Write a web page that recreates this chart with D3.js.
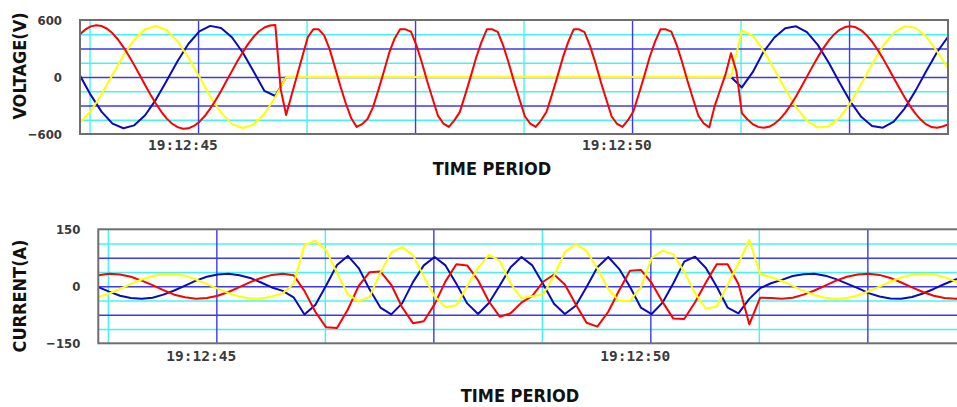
<!DOCTYPE html>
<html>
<head>
<meta charset="utf-8">
<script src="https://cdn.jsdelivr.net/npm/d3@7"></script>
<style>
  body { margin: 0; background: #fff; }
  svg { display: block; }
</style>
</head>
<body>
<div id="chart"></div>
<script>
// record window: 10 s starting at 19:12:43.82 (seconds after 19:12:00)
var t0 = 43.82, span = 10;

// phase R voltage is read at twice the rate of the other traces
var voltageRed = [
  451, 501, 533, 545, 536, 508, 460, 395, 315, 224,
  125, 20, -85, -187, -282, -366, -438, -492, -528, -544,
  -540, -515, -472, -411, -333, -244, -147, -43, 62, 166,
  261, 349, 423, 482, 521, 542, 548, -130, -400, -190,
  14, 218, 421, 502, 502, 438, 296, 101, -97, -279,
  -435, -525, -496, -442, -319, -138, 56, 256, 406, 502,
  502, 478, 335, 156, -44, -229, -410, -490, -525, -457,
  -370, -188, 1, 200, 367, 502, 502, 475, 332, 152,
  -47, -232, -413, -491, -525, -456, -366, -185, 4, 204,
  369, 502, 502, 472, 330, 149, -51, -235, -416, -493,
  -525, -455, -363, -182, 8, 208, 372, 502, 502, 478,
  335, 156, -44, -229, -410, -490, -530, -304, -137, 30,
  250, 58, -380, -445, -495, -525, -535, -524, -493, -444,
  -377, -295, -202, -101, 4, 109, 209, 302, 382, 448,
  497, 526, 535, 523, 491, 440, 372, 290, 196, 95,
  -10, -114, -214, -306, -386, -451, -499, -527, -535, -521,
  -500];
var voltageYellow = [
  -483, -358, -180, 24, 225, 392, 502, 537, 492, 375,
  202, -1, -204, -376, -493, -537, -501, -390, -210, 0,
  0, 0, 0, 0, 0, 0, 0, 0, 0, 0,
  0, 0, 0, 0, 0, 0, 0, 0, 0, 0,
  0, 0, 0, 0, 0, 0, 0, 0, 0, 0,
  0, 0, 0, 0, 0, 0, 0, 0, 0, 0,
  0, 490, 435, 278, 80, -128, -318, -461, -532, -520,
  -430, -274, -75, 135, 324, 464, 532, 519, 426, 268,
  90];
var voltageBlue = [
  15, -191, -367, -491, -539, -509, -403, -238, -37, 169,
  350, 480, 538, 516, 418, 258, 59, -147, -200, 0,
  0, 0, 0, 0, 0, 0, 0, 0, 0, 0,
  0, 0, 0, 0, 0, 0, 0, 0, 0, 0,
  0, 0, 0, 0, 0, 0, 0, 0, 0, 0,
  0, 0, 0, 0, 0, 0, 0, 0, 0, 0,
  0, -110, 51, 265, 416, 514, 534, 472, 338, 152,
  -57, -258, -419, -516, -534, -470, -332, -146, 63, 263,
  424];

var currentRed = [
  29, 33, 31, 25, 15, 3, -10, -22, -29, -33,
  -31, -25, -15, -2, 11, 22, 30, 33, 29, -12,
  -67, -108, -110, -61, 1, 37, 39, 4, -55, -97,
  -92, -47, 13, 58, 55, 16, -40, -80, -71, -43,
  -25, 12, 31, 5, -47, -96, -106, -67, -11, 41,
  43, 9, -41, -85, -86, -42, 10, 58, 58, 6,
  -100, -30, -31, -33, -30, -22, -11, 2, 15, 25,
  31, 33, 30, 22, 10, -3, -15, -25, -31, -33,
  -29];
var currentYellow = [
  -28, -19, -7, 6, 18, 27, 32, 32, 28, 18,
  6, -6, -18, -27, -32, -32, -27, -18, 7, 108,
  120, 95, 35, -21, -39, -28, 36, 89, 103, 82,
  26, -27, -55, -50, 1, 48, 83, 67, 7, -31,
  -26, -21, 27, 90, 111, 93, 47, -7, -39, -38,
  -3, 74, 94, 84, 38, -18, -59, -53, 4, 60,
  122, 32, 24, 14, 1, -12, -23, -30, -33, -31,
  -24, -13, -1, 12, 23, 30, 33, 31, 24, 13,
  0];
var currentBlue = [
  -2, -14, -25, -31, -33, -30, -22, -11, 2, 15,
  25, 31, 33, 29, 22, 10, -3, -12, -29, -74,
  -49, 2, 56, 80, 48, -8, -56, -74, -45, 11,
  55, 77, 55, 7, -45, -73, -44, 2, 50, 77,
  55, 6, -46, -73, -51, -2, 50, 77, 46, -1,
  -56, -73, -43, 8, 65, 78, 48, -1, -56, -71,
  -33, -5, 8, 17, 27, 32, 33, 28, 19, 7,
  -5, -18, -27, -32, -33, -28, -19, -7, 6, 18,
  27];

var timeTicks = [45, 50];
var majorGrid = [45.18, 47.68, 50.18, 52.68];
var minorGrid = [43.93, 46.43, 48.93, 51.43];

var voltTicks = [-600, 0, 600],
    voltMajor = [-300, 0, 300],
    voltMinor = [-450, -150, 150, 450];
var currTicks = [-150, 0, 150],
    currMajor = [-75, 0, 75],
    currMinor = [-112.5, -37.5, 37.5, 112.5];

var width = 957, height = 407;

var svg = d3.select("#chart").append("svg")
    .attr("width", width)
    .attr("height", height);

function drawPanel(p) {
    var w = 868, h = 114;
    var g = svg.append("g")
        .attr("transform", "translate(" + p.left + "," + p.top + ")");

    var x = d3.scaleLinear()
        .domain([t0, t0 + span])
        .range([0, w]);
    var y = d3.scaleLinear()
        .domain([p.ticks[0], p.ticks[2]])
        .range([h, 0]);

    // grid: light cyan first, blue on top
    var gx1 = g.append("g")
        .attr("transform", "translate(0," + h + ")")
        .call(d3.axisBottom(x).tickValues(minorGrid).tickSize(-h).tickFormat(""));
    var gy1 = g.append("g")
        .call(d3.axisLeft(y).tickValues(p.minor).tickSize(-w).tickFormat(""));
    var gx2 = g.append("g")
        .attr("transform", "translate(0," + h + ")")
        .call(d3.axisBottom(x).tickValues(majorGrid).tickSize(-h).tickFormat(""));
    var gy2 = g.append("g")
        .call(d3.axisLeft(y).tickValues(p.major).tickSize(-w).tickFormat(""));
    [gx1, gy1].forEach(function (a) {
        a.select(".domain").remove();
        a.selectAll("line").attr("stroke", "#44f4f4").attr("stroke-width", 1.4);
    });
    [gx2, gy2].forEach(function (a) {
        a.select(".domain").remove();
        a.selectAll("line").attr("stroke", "#3a3af0").attr("stroke-width", 1.4);
    });

    g.append("clipPath").attr("id", "clip" + p.id)
        .append("rect").attr("width", w).attr("height", h);

    var lines = g.append("g").attr("clip-path", "url(#clip" + p.id + ")");
    p.series.forEach(function (s) {
        var step = span / (s.values.length - 1);
        var line = d3.line()
            .x(function (d, i) { return x(t0 + i * step); })
            .y(function (d) { return y(d); });
        lines.append("path")
            .attr("d", line(s.values))
            .attr("fill", "none")
            .attr("stroke", s.color)
            .attr("stroke-width", 2)
            .attr("stroke-linejoin", "round");
    });

    g.append("rect")
        .attr("width", w).attr("height", h)
        .attr("fill", "none")
        .attr("stroke", "#6e6e6e")
        .attr("stroke-width", 2);

    // value labels
    var ya = g.append("g")
        .call(d3.axisLeft(y).tickValues(p.ticks).tickSize(0).tickPadding(18));
    ya.select(".domain").remove();
    ya.selectAll("text")
        .attr("font-family", "DejaVu Sans Condensed")
        .attr("font-weight", "bold")
        .attr("font-size", 13)
        .attr("fill", "#3a3a3a");

    // time labels
    var xa = g.append("g")
        .attr("transform", "translate(0," + h + ")")
        .call(d3.axisBottom(x).tickValues(timeTicks).tickSize(0).tickPadding(p.timePad)
            .tickFormat(function (s) { return "19:12:" + s; }));
    xa.select(".domain").remove();
    xa.selectAll("text")
        .attr("font-family", "DejaVu Sans Mono")
        .attr("font-weight", "bold")
        .attr("font-size", 14.5)
        .attr("fill", "#3a3a3a");

    svg.append("text")
        .attr("transform", "translate(" + p.yTitleX + "," + p.yTitleY + ") rotate(-90)")
        .attr("text-anchor", "middle")
        .attr("dy", "0.36em")
        .attr("font-family", "DejaVu Sans Condensed")
        .attr("font-weight", "bold")
        .attr("font-size", 18)
        .attr("fill", "#111")
        .text(p.yTitle);

    svg.append("text")
        .attr("x", p.xTitleX)
        .attr("y", p.xTitleY)
        .attr("text-anchor", "middle")
        .attr("dy", "0.36em")
        .attr("font-family", "DejaVu Sans Condensed")
        .attr("font-weight", "bold")
        .attr("font-size", 18)
        .attr("fill", "#111")
        .text("TIME PERIOD");
}

drawPanel({
    id: 1, left: 80, top: 20,
    ticks: voltTicks, major: voltMajor, minor: voltMinor,
    timePad: 6,
    yTitle: "VOLTAGE(V)", yTitleX: 19.5, yTitleY: 66,
    xTitleX: 492, xTitleY: 168.5,
    series: [
        { values: voltageBlue, color: "#0b0bb8" },
        { values: voltageYellow, color: "#ffff00" },
        { values: voltageRed, color: "#ff0000" }
    ]
});

drawPanel({
    id: 2, left: 98.3, top: 229.3,
    ticks: currTicks, major: currMajor, minor: currMinor,
    timePad: 7,
    yTitle: "CURRENT(A)", yTitleX: 19.5, yTitleY: 296,
    xTitleX: 520, xTitleY: 396,
    series: [
        { values: currentBlue, color: "#0b0bb8" },
        { values: currentRed, color: "#ff0000" },
        { values: currentYellow, color: "#ffff00" }
    ]
});
</script>
</body>
</html>
